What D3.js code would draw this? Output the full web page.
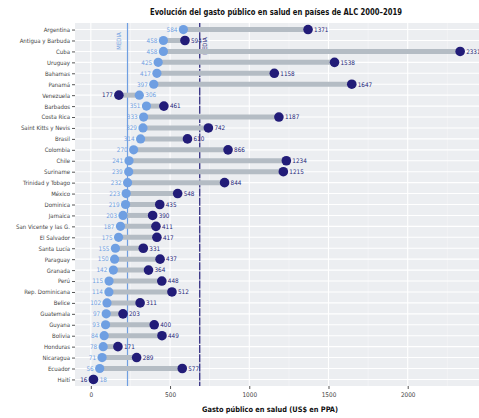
<!DOCTYPE html>
<html>
<head>
<meta charset="utf-8">
<script src="https://cdn.jsdelivr.net/npm/d3@7"></script>
<style>
  body { margin: 0; background: #fff; }
  svg text { font-family: "DejaVu Sans Condensed", "DejaVu Sans", sans-serif; font-stretch: condensed; }
</style>
</head>
<body>
<div id="chart"></div>
<script>
// datos: gasto público en salud (US$ PPA), 2000 y 2019
var paises = ["Argentina", "Antigua y Barbuda", "Cuba", "Uruguay", "Bahamas", "Panamá",
  "Venezuela", "Barbados", "Costa Rica", "Saint Kitts y Nevis", "Brasil", "Colombia",
  "Chile", "Suriname", "Trinidad y Tobago", "México", "Dominica", "Jamaica",
  "San Vicente y las G.", "El Salvador", "Santa Lucía", "Paraguay", "Granada", "Perú",
  "Rep. Dominicana", "Belice", "Guatemala", "Guyana", "Bolivia", "Honduras",
  "Nicaragua", "Ecuador", "Haití"];
var gasto2000 = [584, 458, 458, 425, 417, 397, 306, 351, 333, 329, 314, 270, 241, 239,
  232, 223, 219, 203, 187, 175, 155, 150, 142, 115, 114, 102, 97, 93, 84, 78, 71, 56, 18];
var gasto2019 = [1371, 594, 2331, 1538, 1158, 1647, 177, 461, 1187, 742, 610, 866, 1234,
  1215, 844, 548, 435, 390, 411, 417, 331, 437, 364, 448, 512, 311, 203, 400, 449, 171,
  289, 577, 16];
var xTicks = [0, 500, 1000, 1500, 2000];

var width = 479, height = 418;
var claro = "#6f9fe2", oscuro = "#221c78", gris = "#b4bcc4";

var svg = d3.select("#chart").append("svg")
  .attr("width", width)
  .attr("height", height);

var x = d3.scaleLinear().domain([-100, 2450]).range([75, 479]);
var y = d3.scalePoint().domain(paises).range([23, 386]).padding(0.6);

var data = paises.map(function(p, i){
  return {pais: p, a: gasto2000[i], b: gasto2019[i]};
});

// panel
svg.append("rect")
  .attr("x", x.range()[0]).attr("y", 23)
  .attr("width", x.range()[1] - x.range()[0]).attr("height", 363)
  .attr("fill", "#eceef1");

var minor = d3.range(250, 2450, 500);
svg.selectAll(".minor").data(minor).enter().append("line")
  .attr("x1", function(d){ return x(d); }).attr("x2", function(d){ return x(d); })
  .attr("y1", 23).attr("y2", 386)
  .attr("stroke", "#f6f7f8").attr("stroke-width", 0.6);

svg.selectAll(".vgrid").data(xTicks).enter().append("line")
  .attr("x1", function(d){ return x(d); }).attr("x2", function(d){ return x(d); })
  .attr("y1", 23).attr("y2", 386)
  .attr("stroke", "#fff").attr("stroke-width", 1.1);

svg.selectAll(".hgrid").data(paises).enter().append("line")
  .attr("x1", x.range()[0]).attr("x2", x.range()[1])
  .attr("y1", function(d){ return y(d); }).attr("y2", function(d){ return y(d); })
  .attr("stroke", "#fff").attr("stroke-width", 1.1);

// lineas de media
var media2000 = d3.mean(gasto2000), media2019 = d3.mean(gasto2019);
svg.append("line")
  .attr("x1", x(media2000)).attr("x2", x(media2000)).attr("y1", 23).attr("y2", 386)
  .attr("stroke", claro).attr("stroke-width", 1.2);
svg.append("line")
  .attr("x1", x(media2019)).attr("x2", x(media2019)).attr("y1", 23).attr("y2", 386)
  .attr("stroke", oscuro).attr("stroke-width", 1.2)
  .attr("stroke-dasharray", "8,1.2");
svg.append("text")
  .attr("transform", "translate(" + (x(media2000) - 7) + ",41) rotate(-90)")
  .attr("text-anchor", "middle").attr("font-size", 6).attr("fill", claro)
  .text("MEDIA");
svg.append("text")
  .attr("transform", "translate(" + (x(media2019) + 7) + ",46) rotate(-90)")
  .attr("text-anchor", "middle").attr("font-size", 6).attr("fill", oscuro)
  .text("MEDIA");

// segmentos
svg.selectAll(".seg").data(data).enter().append("line")
  .attr("x1", function(d){ return x(d.a); })
  .attr("x2", function(d){ return x(d.b); })
  .attr("y1", function(d){ return y(d.pais); })
  .attr("y2", function(d){ return y(d.pais); })
  .attr("stroke", gris).attr("stroke-width", 5);

svg.selectAll(".p2000").data(data).enter().append("circle")
  .attr("cx", function(d){ return x(d.a); })
  .attr("cy", function(d){ return y(d.pais); })
  .attr("r", 4.6).attr("fill", claro);

svg.selectAll(".p2019").data(data).enter().append("circle")
  .attr("cx", function(d){ return x(d.b); })
  .attr("cy", function(d){ return y(d.pais); })
  .attr("r", 4.8).attr("fill", oscuro);

// etiquetas de valores
svg.selectAll(".l2000").data(data).enter().append("text")
  .attr("x", function(d){ return d.a > d.b ? x(d.a) + 6 : x(d.a) - 6; })
  .attr("y", function(d){ return y(d.pais) + 2.3; })
  .attr("text-anchor", function(d){ return d.a > d.b ? "start" : "end"; })
  .attr("font-size", 6.3).attr("fill", claro)
  .text(function(d){ return d.a; });

svg.selectAll(".l2019").data(data).enter().append("text")
  .attr("x", function(d){ return d.b >= d.a ? x(d.b) + 6 : x(d.b) - 6; })
  .attr("y", function(d){ return y(d.pais) + 2.3; })
  .attr("text-anchor", function(d){ return d.b >= d.a ? "start" : "end"; })
  .attr("font-size", 6.3).attr("fill", oscuro)
  .text(function(d){ return d.b; });

// ejes
var yAxis = svg.append("g")
  .attr("transform", "translate(" + x.range()[0] + ",0)")
  .call(d3.axisLeft(y).tickSize(3).tickPadding(2));
yAxis.select(".domain").remove();
yAxis.selectAll("line").attr("stroke", "#555");
yAxis.selectAll("text").attr("font-size", 6).attr("fill", "#444").attr("font-family", null);

var xAxis = svg.append("g")
  .attr("transform", "translate(0,386)")
  .call(d3.axisBottom(x).tickValues(xTicks).tickFormat(d3.format("d")).tickSize(3).tickPadding(3));
xAxis.select(".domain").remove();
xAxis.selectAll("line").attr("stroke", "#555");
xAxis.selectAll("text").attr("font-size", 6.4).attr("fill", "#444").attr("font-family", null);

// titulos
svg.append("text")
  .attr("x", 276).attr("y", 15)
  .attr("text-anchor", "middle").attr("font-size", 9).attr("font-weight", "bold")
  .attr("fill", "#111")
  .attr("textLength", 252).attr("lengthAdjust", "spacingAndGlyphs")
  .text("Evolución del gasto público en salud en países de ALC 2000–2019");

svg.append("text")
  .attr("x", 270).attr("y", 412)
  .attr("text-anchor", "middle").attr("font-size", 7.5).attr("font-weight", "bold")
  .attr("fill", "#111")
  .attr("textLength", 136).attr("lengthAdjust", "spacingAndGlyphs")
  .text("Gasto público en salud (US$ en PPA)");
</script>
</body>
</html>
